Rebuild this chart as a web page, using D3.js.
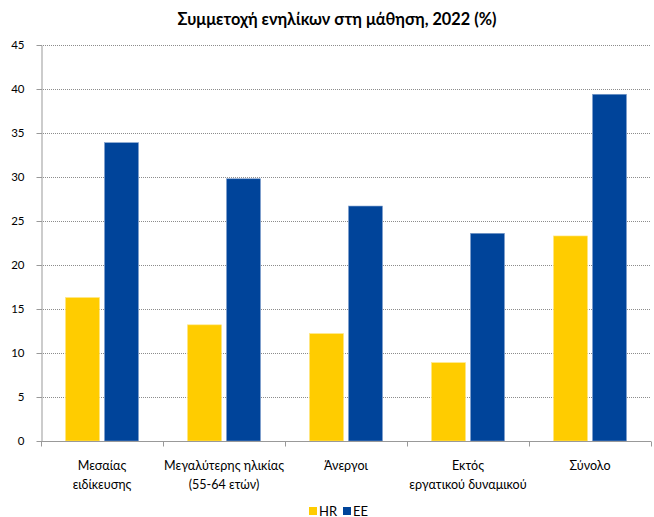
<!DOCTYPE html>
<html><head><meta charset="utf-8">
<script src="https://cdn.jsdelivr.net/npm/d3@7"></script>
<style>
body{margin:0;background:#fff;}
text{font-family:Lato,"Liberation Sans",sans-serif;fill:#000;}
</style></head>
<body>
<svg id="c" width="654" height="517"></svg>
<script>
const categories = [["Μεσαίας","ειδίκευσης"],["Μεγαλύτερης ηλικίας","(55-64 ετών)"],["Άνεργοι"],["Εκτός","εργατικού δυναμικού"],["Σύνολο"]];
const seriesNames = ["HR","EE"];
const hrValues = [16.3, 13.2, 12.2, 8.9, 23.3];
const eeValues = [33.9, 29.8, 26.7, 23.6, 39.4];
const yTicks = [0,5,10,15,20,25,30,35,40,45];
const colors = ["#FFCC00","#00449A"];
const title = "Συμμετοχή ενηλίκων στη μάθηση, 2022 (%)";

const svg = d3.select("#c");
const m = {l:41, r:651, t:45, b:441};
const x = d3.scaleBand().domain(d3.range(categories.length)).range([m.l, m.r]);
const y = d3.scaleLinear().domain([0,45]).range([m.b, m.t]);
const data = [hrValues, eeValues];

// gridlines
svg.append("g").selectAll("line").data(yTicks.filter(d=>d>0)).join("line")
  .attr("x1", m.l).attr("x2", m.r).attr("y1", d=>y(d)+0.5).attr("y2", d=>y(d)+0.5)
  .attr("stroke","#8c8c8c").attr("stroke-width",1).attr("stroke-dasharray","1,1");

// bars
const bw = 34, gap = 5;
seriesNames.forEach((s,si)=>{
  svg.append("g").selectAll("rect").data(data[si]).join("rect")
    .attr("x",(d,i)=> x(i) + x.bandwidth()/2 - bw - gap/2 + si*(bw+gap))
    .attr("y", d=>y(d)).attr("width", bw).attr("height", d=>y(0)-y(d))
    .attr("fill", colors[si]).attr("stroke", si===0?"#ffe680":"#7f9fcc").attr("stroke-width",0.6);
});

// y axis
const ya = d3.axisLeft(y).tickValues(yTicks).tickSize(5).tickSizeOuter(0);
const gy = svg.append("g").attr("transform",`translate(${m.l+0.5},0)`).call(ya);
gy.select(".domain").attr("stroke","#999");
gy.selectAll(".tick line").attr("stroke","#999");
gy.selectAll(".tick text").attr("font-size",11.5).attr("x",-17).attr("font-family","Lato,sans-serif");

// x axis
const xb = d3.scaleLinear().domain([0,categories.length]).range([m.l,m.r]);
const gx = svg.append("g").attr("transform",`translate(0,${m.b+0.5})`);
gx.append("line").attr("x1",m.l).attr("x2",m.r).attr("stroke","#999");
gx.selectAll("line.t").data(d3.range(categories.length+1)).join("line").attr("class","t")
  .attr("x1",d=>Math.round(xb(d))+0.5).attr("x2",d=>Math.round(xb(d))+0.5).attr("y1",0).attr("y2",5).attr("stroke","#999");
const catTexts = [];
categories.forEach((c,i)=>{
  const t = svg.append("text").attr("text-anchor","middle").attr("font-size",13.8)
    .attr("x", x(i)+x.bandwidth()/2).attr("y", 470);
  c.forEach((ln,j)=> t.append("tspan").attr("x", x(i)+x.bandwidth()/2).attr("dy", j===0?0:19).text(ln));
  catTexts.push(t);
});
// fit category font so "Μεγαλύτερης ηλικίας" is ~120px wide
{
  const probe = svg.append("text").attr("font-size",13.8).text(categories[1][0]);
  const w = probe.node().getComputedTextLength(); probe.remove();
  const fs = 13.8*120/w;
  catTexts.forEach(t=>t.attr("font-size",fs));
}

// title
const tt = svg.append("text").attr("x",337).attr("y",25).attr("text-anchor","middle")
  .attr("font-size",17.8).attr("font-weight","bold").text(title);
{
  const w = tt.node().getComputedTextLength();
  tt.attr("font-size", 17.8*319/w);
}

// legend
const lg = svg.append("g");
const lx = [309, 343];
seriesNames.forEach((s,i)=>{
  lg.append("rect").attr("x",lx[i]).attr("y",507).attr("width",8).attr("height",8).attr("fill",colors[i]);
  lg.append("text").attr("x",lx[i]+10).attr("y",515.5).attr("font-size",13).text(s);
});
</script>
</body></html>
